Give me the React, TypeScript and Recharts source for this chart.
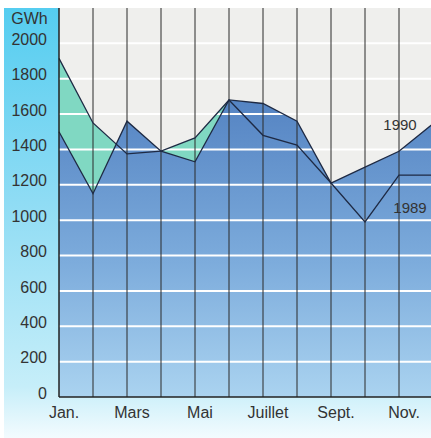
import React from "react";
import {
  ComposedChart,
  Area,
  Line,
  XAxis,
  YAxis,
  CartesianGrid,
  ReferenceLine,
  LabelList,
  Label,
} from "recharts";

const months = ["Jan.", "Févr.", "Mars", "Avr.", "Mai", "Juin", "Juillet", "Août", "Sept.", "Oct.", "Nov.", "Déc."];
const values1990 = [1500, 1150, 1560, 1390, 1330, 1680, 1660, 1560, 1210, 1300, 1390, 1545];
const values1989 = [1915, 1550, 1375, 1390, 1465, 1680, 1480, 1425, 1210, 990, 1255, 1255];
const yTicks = [0, 200, 400, 600, 800, 1000, 1200, 1400, 1600, 1800, 2000];

const data = months.map((m, i) => ({ month: m, y1990: values1990[i], y1989: values1989[i] }));

const FONT = "'Liberation Sans', Arial, sans-serif";
const INK = "#1e2a44";

const seriesLabel = (text: string, dx: number, dy: number) => (p: any) => {
  if (p.index !== 10) return <g />;
  return (
    <text
      x={Number(p.x) + dx}
      y={Number(p.y) + dy}
      textAnchor="middle"
      dominantBaseline="central"
      fontSize={15}
      fill="#333"
      fontFamily={FONT}
    >
      {text}
    </text>
  );
};

export default function App() {
  return (
    <div
      style={{
        position: "absolute",
        left: 0,
        top: 0,
        width: 431,
        height: 438,
        overflow: "hidden",
        background: "#fff",
      }}
    >
      <div
        style={{
          position: "absolute",
          left: 4,
          top: 8,
          right: 0,
          bottom: 0,
          background:
            "linear-gradient(to bottom, #55cdf0 0%, #8fdcf4 45%, #c6eef9 88%, #f3fbfe 100%)",
        }}
      />
      <div style={{ position: "absolute", left: 0, top: 0 }}>
        <ComposedChart
          width={440}
          height={438}
          data={data}
          margin={{ top: 8, right: 7, bottom: 0, left: 0 }}
          style={{ fontFamily: FONT }}
        >
          <defs>
            <linearGradient id="blueFill" gradientUnits="userSpaceOnUse" x1="0" y1="100" x2="0" y2="397">
              <stop offset="0%" stopColor="#5584c3" />
              <stop offset="55%" stopColor="#7dacdc" />
              <stop offset="100%" stopColor="#aad3f0" />
            </linearGradient>
          </defs>
          <CartesianGrid horizontal={false} vertical={false} fill="#efefed" />
          <XAxis
            dataKey="month"
            height={41}
            interval={1}
            padding={{ left: 0, right: 0 }}
            tickLine={false}
            tickSize={6}
            tickMargin={4}
            axisLine={{ stroke: "#222", strokeWidth: 1.5 }}
            tick={{ fontSize: 16, fill: "#333", dx: 5 }}
          />
          <YAxis
            width={59}
            domain={[0, 2200]}
            ticks={yTicks}
            tickLine={false}
            tickSize={6}
            tickMargin={6}
            axisLine={{ stroke: "#222", strokeWidth: 1.5 }}
            tick={{ fontSize: 16, fill: "#333", dy: -4 }}
          >
            <Label value="GWh" position="insideTop" offset={5} fontSize={16} fill="#333" />
          </YAxis>
          <Area
            dataKey="y1989"
            type="linear"
            stroke="none"
            fill="#80d8c2"
            fillOpacity={1}
            isAnimationActive={false}
          />
          <Area
            dataKey="y1990"
            type="linear"
            stroke="none"
            fill="url(#blueFill)"
            fillOpacity={1}
            isAnimationActive={false}
          />
          {yTicks.slice(1).map((t) => (
            <ReferenceLine key={"h" + t} y={t} stroke="#ffffff" strokeWidth={2} />
          ))}
          {months.slice(1).map((m) => (
            <ReferenceLine key={"v" + m} x={m} stroke="#2a2a2a" strokeWidth={1} />
          ))}
          <Line
            dataKey="y1989"
            type="linear"
            stroke={INK}
            strokeWidth={1.3}
            dot={false}
            activeDot={false}
            isAnimationActive={false}
          >
            <LabelList dataKey="y1989" content={seriesLabel("1989", 11, 32)} />
          </Line>
          <Line
            dataKey="y1990"
            type="linear"
            stroke={INK}
            strokeWidth={1.3}
            dot={false}
            activeDot={false}
            isAnimationActive={false}
          >
            <LabelList dataKey="y1990" content={seriesLabel("1990", 1, -27)} />
          </Line>
        </ComposedChart>
      </div>
    </div>
  );
}
